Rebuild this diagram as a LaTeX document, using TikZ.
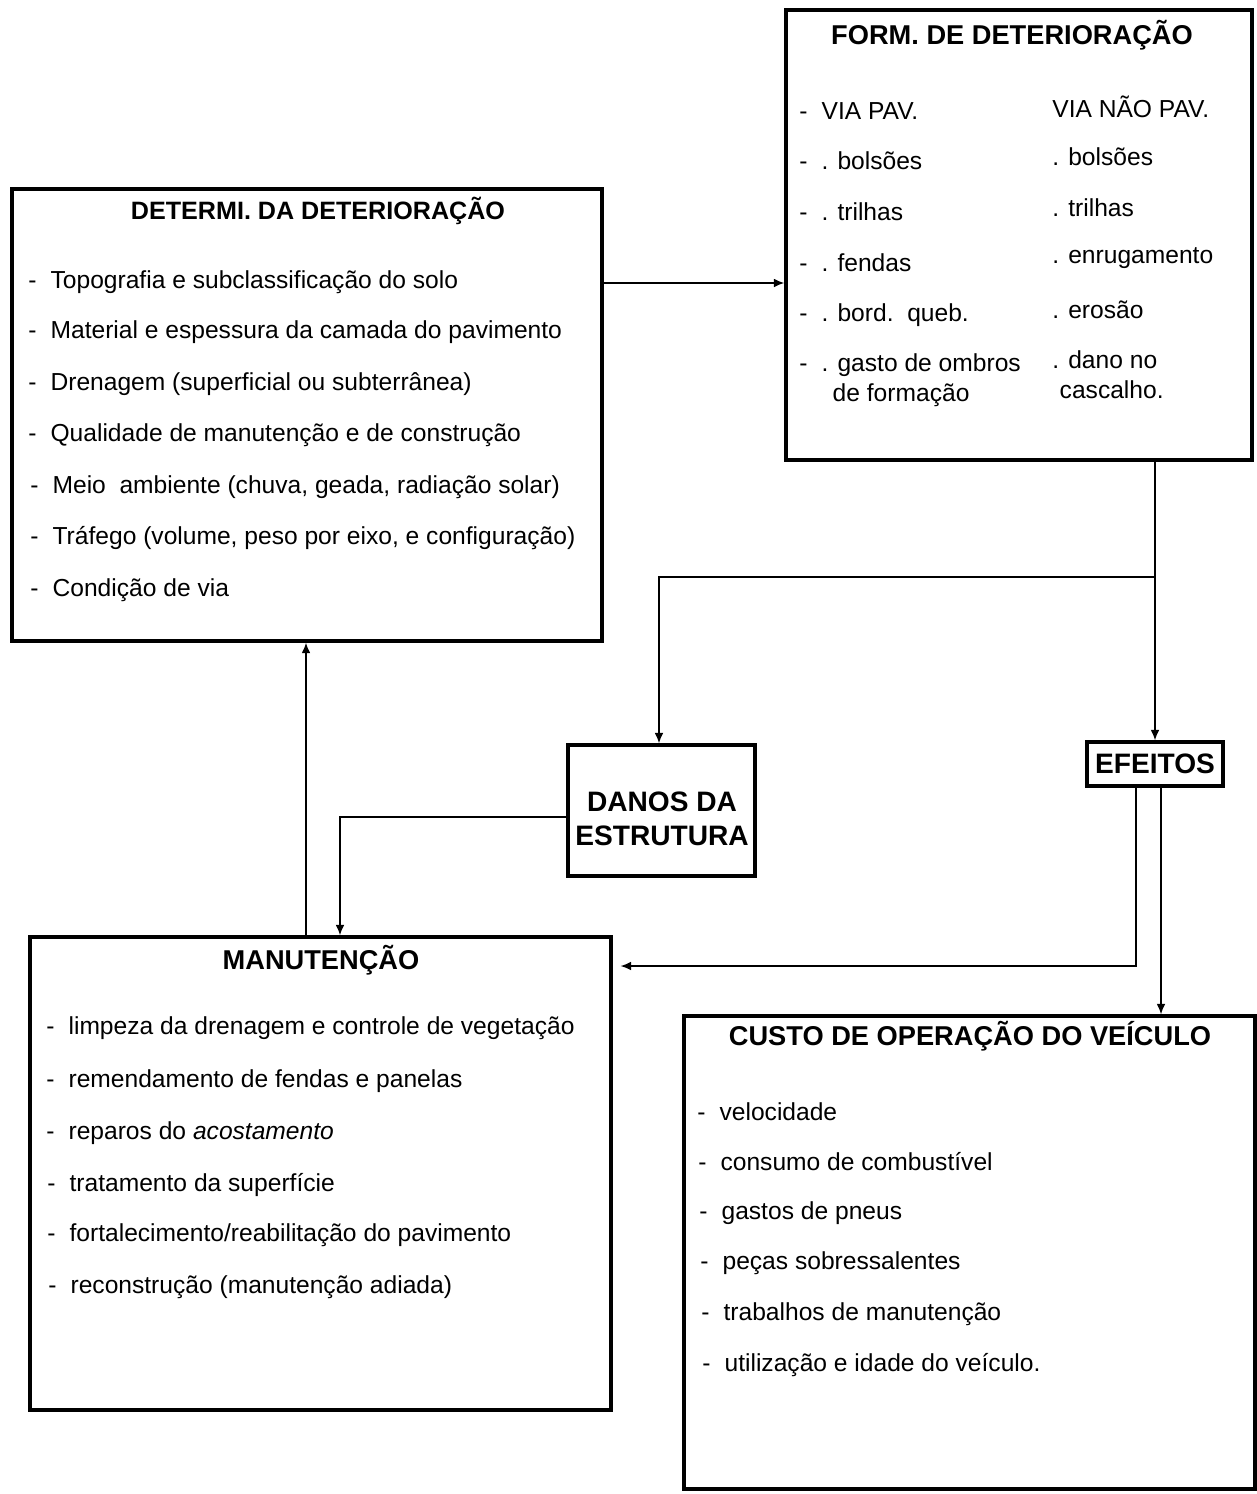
\documentclass[tikz,border=0pt]{standalone}
\usepackage{fontspec}
\setmainfont{Liberation Sans}
\usetikzlibrary{arrows.meta,fit}
\newcommand\itemdash{-\hspace{8pt}}
\begin{document}
\begin{tikzpicture}[x=0.02cm,y=-0.02cm,
  box/.style={draw, line width=1.9pt, inner sep=0pt},
  conn/.style={line width=0.8pt, -{Latex[length=6pt,width=5pt]}},
  item/.style={anchor=west, inner sep=0pt, font=\fontsize{14}{17}\selectfont},
  ttl/.style={inner sep=0pt, font=\bfseries\fontsize{15.5}{18}\selectfont},
  bigttl/.style={inner sep=0pt, align=center, font=\bfseries\fontsize{16}{19}\selectfont}]
\useasboundingbox (0,0) rectangle (1257,1494);

% ---------- boxes ----------
\node[box, fit={(12,189) (602,641)}] (det) {};
\node[box, fit={(786,10) (1252,460)}] (form) {};
\node[box, fit={(568,745) (755,876)}] (dan) {};
\node[box, fit={(1087,742) (1223,786)}] (ef) {};
\node[box, fit={(30,937) (611,1410)}] (man) {};
\node[box, fit={(684,1016) (1255,1489)}] (cu) {};

% ---------- DETERMI ----------
\node[ttl, font=\bfseries\fontsize{14.3}{17}\selectfont] (detT) at (318,211) {DETERMI. DA DETERIORAÇÃO};
\node[item] (d1) at (28,282) {\itemdash Topografia e subclassificação do solo};
\node[item] (d2) at (28,332) {\itemdash Material e espessura da camada do pavimento};
\node[item] (d3) at (28,384) {\itemdash Drenagem (superficial ou subterrânea)};
\node[item] (d4) at (28,435) {\itemdash Qualidade de manutenção e de construção};
\node[item] (d5) at (30,487) {\itemdash Meio\ \ ambiente (chuva, geada, radiação solar)};
\node[item] (d6) at (30,538) {\itemdash Tráfego (volume, peso por eixo, e configuração)};
\node[item] (d7) at (30,590) {\itemdash Condição de via};

% ---------- FORM ----------
\node[ttl] (formT) at (1012,35) {FORM. DE DETERIORAÇÃO};
\node[item] (f1) at (799,111) {\itemdash VIA PAV.};
\node[item] (f2) at (799,161) {\itemdash . bolsões};
\node[item] (f3) at (799,212) {\itemdash . trilhas};
\node[item] (f4) at (799,263) {\itemdash . fendas};
\node[item] (f5) at (799,315) {\itemdash . bord.\ \ queb.};
\node[item, anchor=north west, align=left] (f6) at (799,353) {\itemdash . gasto de ombros\\\hspace*{19pt}de formação};
\node[item] (g1) at (1052,107) {VIA NÃO PAV.};
\node[item] (g2) at (1052,157) {. bolsões};
\node[item] (g3) at (1052,208) {. trilhas};
\node[item] (g4) at (1052,258) {. enrugamento};
\node[item] (g5) at (1052,310) {. erosão};
\node[item, anchor=north west, align=left] (g6) at (1052,350) {. dano no\\\hspace*{0.3em}cascalho.};

% ---------- DANOS / EFEITOS ----------
\node[bigttl] (danT) at (662,819) {DANOS DA\\ESTRUTURA};
\node[bigttl] (efT) at (1155,764) {EFEITOS};

% ---------- MANUTENCAO ----------
\node[ttl] (manT) at (321,960) {MANUTENÇÃO};
\node[item] (m1) at (46,1028) {\itemdash limpeza da drenagem e controle de vegetação};
\node[item] (m2) at (46,1081) {\itemdash remendamento de fendas e panelas};
\node[item] (m3) at (46,1133) {\itemdash reparos do \textit{acostamento}};
\node[item] (m4) at (47,1185) {\itemdash tratamento da superfície};
\node[item] (m5) at (47,1235) {\itemdash fortalecimento/reabilitação do pavimento};
\node[item] (m6) at (48,1287) {\itemdash reconstrução (manutenção adiada)};

% ---------- CUSTO ----------
\node[ttl] (cuT) at (970,1036) {CUSTO DE OPERAÇÃO DO VEÍCULO};
\node[item] (k1) at (697,1112) {\itemdash velocidade};
\node[item] (k2) at (698,1162) {\itemdash consumo de combustível};
\node[item] (k3) at (699,1213) {\itemdash gastos de pneus};
\node[item] (k4) at (700,1263) {\itemdash peças sobressalentes};
\node[item] (k5) at (701,1314) {\itemdash trabalhos de manutenção};
\node[item] (k6) at (702,1365) {\itemdash utilização e idade do veículo.};

% ---------- connectors ----------
\coordinate (a1) at (700,283);
\draw[conn] (det.east |- a1) -- (form.west |- a1);
\coordinate (j1) at (1155,577);
\draw[conn] (form.south -| j1) -- (ef.north -| j1);
\coordinate (dx) at (659,0);
\draw[conn] (j1) -| (dan.north -| dx);
\coordinate (ux) at (306,0);
\draw[conn] (man.north -| ux) -- (det.south -| ux);
\coordinate (c2) at (340,817);
\draw[conn] (dan.west |- c2) -- (c2) -- (man.north -| c2);
\coordinate (c3) at (1136,966);
\draw[conn, shorten >=4.5pt] (ef.south -| c3) -- (c3) -- (man.east |- c3);
\coordinate (c4) at (1161,0);
\draw[conn] (ef.south -| c4) -- (cu.north -| c4);
\end{tikzpicture}
\end{document}
